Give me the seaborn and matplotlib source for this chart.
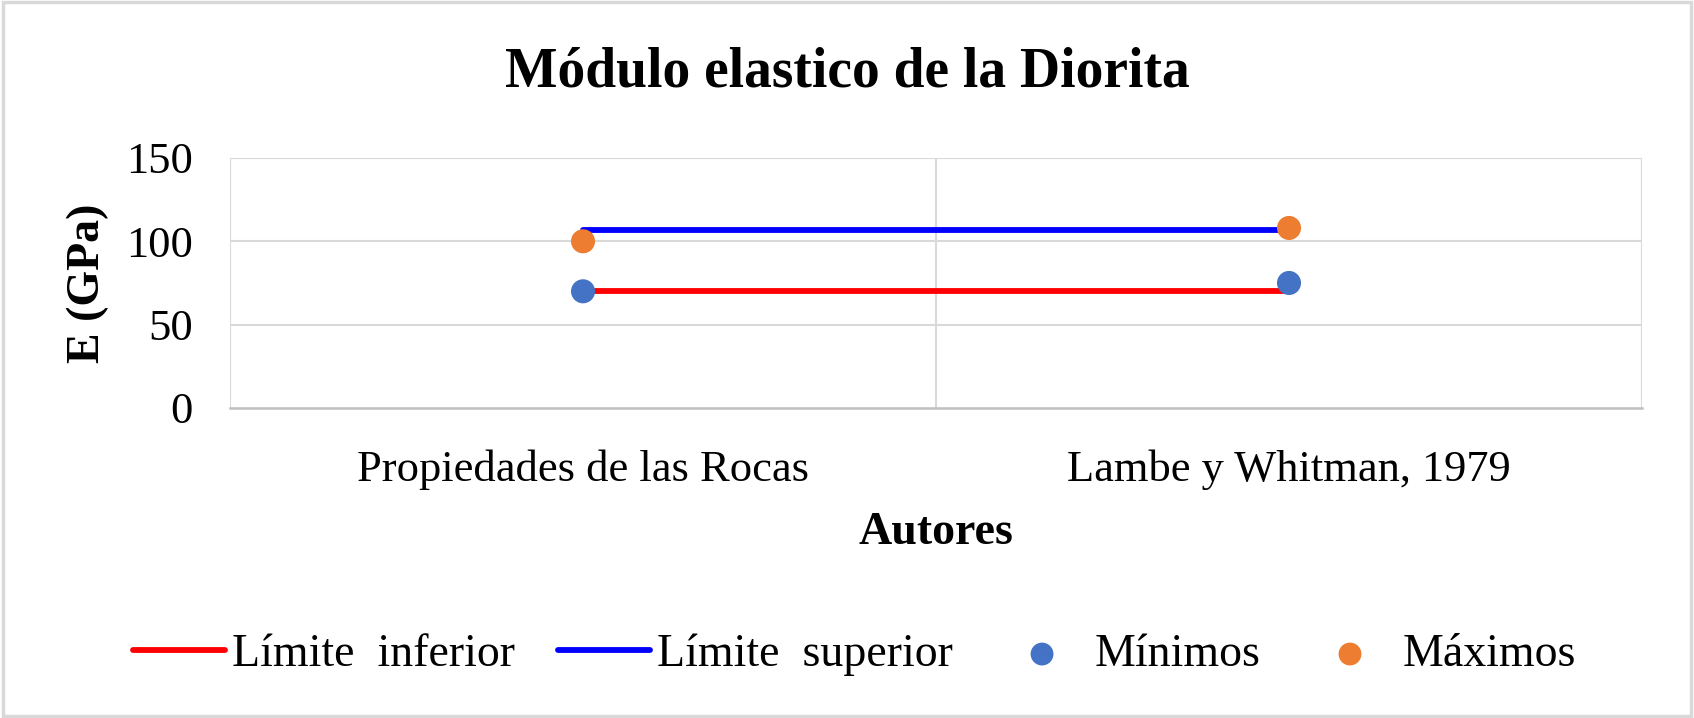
import numpy as np
import pandas as pd
import matplotlib
matplotlib.use('Agg')
import matplotlib.pyplot as plt
import seaborn as sns
from matplotlib.patches import Rectangle

autores = ['Propiedades de las Rocas', 'Lambe y Whitman, 1979']
minimos = [70, 75]
maximos = [100, 108]
limite_inferior = [70, 70]
limite_superior = [107, 107]

sns.set_theme(style='white')
plt.rcParams['font.family'] = ['Liberation Serif', 'DejaVu Serif']
plt.rcParams['text.color'] = 'black'
plt.rcParams['axes.labelcolor'] = 'black'
plt.rcParams['xtick.color'] = 'black'
plt.rcParams['ytick.color'] = 'black'

fig = plt.figure(figsize=(16.94, 7.18), dpi=100)
ax = fig.add_axes([0.1358, 0.4318, 0.9693 - 0.1358, 0.780 - 0.4318])

df = pd.DataFrame({'autor': autores, 'min': minimos, 'max': maximos,
                   'inf': limite_inferior, 'sup': limite_superior})
df['pos'] = np.arange(len(autores))

sns.lineplot(data=df, x='pos', y='inf', color='#FF0000', linewidth=4.2,
             label='Límite  inferior', ax=ax, zorder=3)
sns.lineplot(data=df, x='pos', y='sup', color='#0000FF', linewidth=4.2,
             label='Límite  superior', ax=ax, zorder=3)
sns.scatterplot(data=df, x='pos', y='min', color='#4472C4', s=300,
                edgecolor='none', label='Mínimos', ax=ax, zorder=4)
sns.scatterplot(data=df, x='pos', y='max', color='#ED7D31', s=300,
                edgecolor='none', label='Máximos', ax=ax, zorder=4)

ax.set_xlim(-0.5, len(autores) - 0.5)
ax.set_ylim(0, 150)
ax.set_yticks([0, 50, 100, 150])
ax.set_xticks(df['pos'])
ax.set_xticklabels(autores)
for x in np.arange(-0.5, len(autores), 1.0):
    ax.axvline(x, color='#D9D9D9', linewidth=1.5, zorder=1)
for y in [50, 100, 150]:
    ax.axhline(y, color='#D9D9D9', linewidth=1.5, zorder=1)
for s in ['top', 'right', 'left']:
    ax.spines[s].set_visible(False)
ax.spines['bottom'].set_color('#BFBFBF')
ax.spines['bottom'].set_linewidth(1.8)
ax.tick_params(axis='y', length=0, pad=27, labelsize=32)
ax.tick_params(axis='x', length=0, pad=30, labelsize=32)

ax.set_xlabel('Autores', fontsize=33, fontweight='bold', labelpad=16)
ax.set_ylabel('E (GPa)', fontsize=33, fontweight='bold', labelpad=12)
fig.suptitle('Módulo elastico de la Diorita', fontsize=40, fontweight='bold',
             y=0.899, va='center')

handles, labels = ax.get_legend_handles_labels()
ax.legend(handles, labels, loc='center', bbox_to_anchor=(0.5045, 0.088),
          bbox_transform=fig.transFigure, ncol=4, frameon=False, fontsize=33,
          handlelength=2.0, handletextpad=0.15, columnspacing=0.95,
          markerscale=0.95)

fig.add_artist(Rectangle((0.002, 0.003), 0.996, 0.994, transform=fig.transFigure,
                         fill=False, edgecolor='#D9D9D9', linewidth=2.5))

plt.savefig('out.png', dpi=100)
plt.close()
